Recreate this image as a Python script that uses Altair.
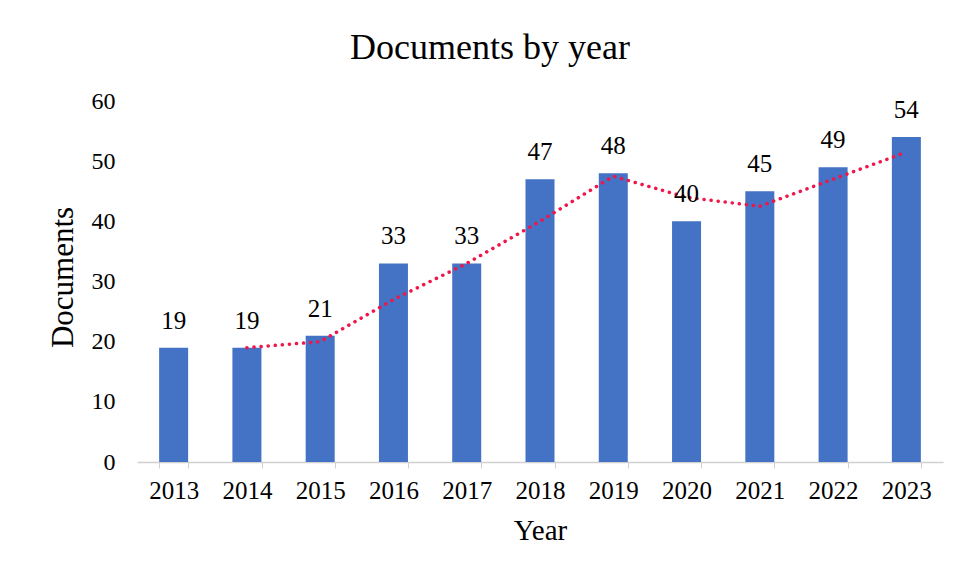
import altair as alt
import pandas as pd

years = ["2013", "2014", "2015", "2016", "2017", "2018", "2019", "2020", "2021", "2022", "2023"]
documents = [19, 19, 21, 33, 33, 47, 48, 40, 45, 49, 54]
# 2-period moving-average trendline (starts at 2014)
trend_years = ["2014", "2015", "2016", "2017", "2018", "2019", "2020", "2021", "2022", "2023"]
trend_values = [19, 20, 27, 33, 40, 47.5, 44, 42.5, 47, 51.5]

bars_df = pd.DataFrame({"Year": years, "Documents": documents})
trend_df = pd.DataFrame({"Year": trend_years, "Trend": trend_values})

FONT = "Liberation Serif"
BAR = "#4472C4"
RED = "#f0164a"

x_enc = alt.X(
    "Year:N",
    sort=years,
    scale=alt.Scale(domain=years, paddingInner=0.6, paddingOuter=0.3),
    axis=alt.Axis(
        title="Year",
        labelAngle=0,
        labelFontSize=25,
        labelFont=FONT,
        labelColor="#000000",
        labelPadding=10,
        titleFont=FONT,
        titleFontSize=29,
        titleFontWeight="normal",
        titleColor="#000000",
        titlePadding=13,
        domainColor="#d0d0d0",
        domainWidth=1.5,
        tickColor="#d0d0d0",
        tickSize=6,
        tickBand="extent",
        grid=False,
    ),
)

y_enc = alt.Y(
    "Documents:Q",
    scale=alt.Scale(domain=[0, 60], nice=False),
    axis=alt.Axis(
        title="Documents",
        values=[0, 10, 20, 30, 40, 50, 60],
        labelFontSize=24,
        labelFont=FONT,
        labelColor="#000000",
        labelPadding=22,
        titleFont=FONT,
        titleFontSize=31,
        titleFontWeight="normal",
        titleColor="#000000",
        titleX=-74,
        titleY=176,
        titleBaseline="middle",
        domain=False,
        ticks=False,
        grid=False,
    ),
)

bars = alt.Chart(bars_df).mark_bar(color=BAR, size=29).encode(x=x_enc, y=y_enc)

labels = alt.Chart(bars_df).mark_text(
    font=FONT, fontSize=25, color="#000000", baseline="alphabetic", dy=-19
).encode(
    x=alt.X("Year:N", sort=years),
    y=alt.Y("Documents:Q"),
    text=alt.Text("Documents:Q"),
)

trend = alt.Chart(trend_df).mark_line(
    color=RED, strokeWidth=3.5, strokeDash=[0.1, 7], strokeCap="round"
).encode(
    x=alt.X("Year:N", sort=years),
    y=alt.Y("Trend:Q"),
)

chart = (
    alt.layer(bars, trend, labels)
    .properties(
        width=806,
        height=361,
        padding={"left": 129, "top": 93, "right": 6, "bottom": 110},
        autosize=alt.AutoSizeParams(type="none"),
        background="#ffffff",
        title=alt.TitleParams(
            "Documents  by  year",
            font=FONT,
            fontSize=36,
            fontWeight="normal",
            color="#000000",
            anchor="middle",
            dx=-50,
            dy=48,
            baseline="alphabetic",
            offset=42,
        ),
    )
    .configure_view(stroke=None)
)

chart.save("out.html", embed_options={"renderer": "svg", "actions": False})
